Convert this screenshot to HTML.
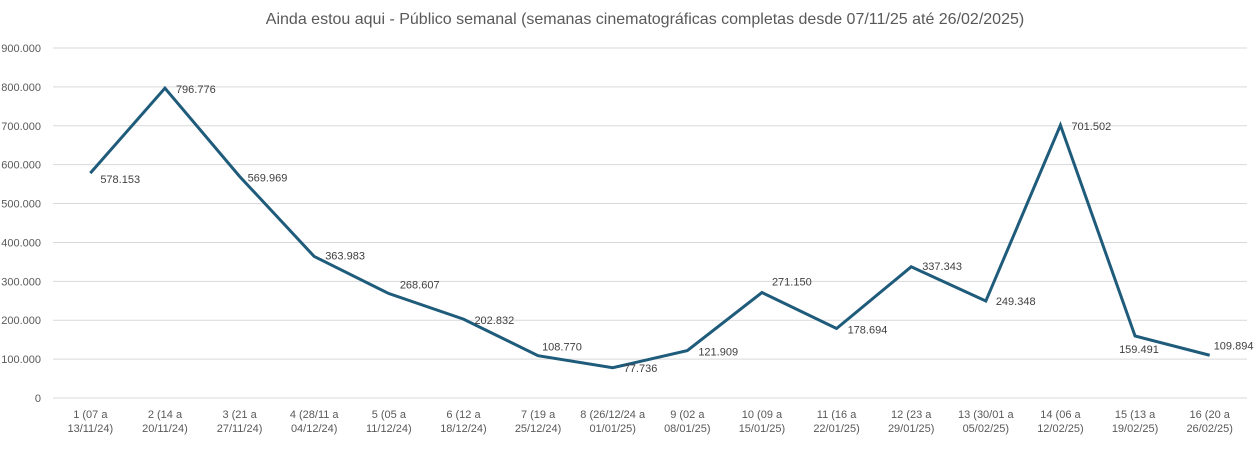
<!DOCTYPE html>
<html><head><meta charset="utf-8"><style>
html,body{margin:0;padding:0;background:#fff;}
svg{display:block;font-family:"Liberation Sans",sans-serif;}
</style></head><body>
<svg id="chart" width="1259" height="449" viewBox="0 0 1259 449">
<text x="645" y="24" text-anchor="middle" font-size="16" fill="#595959">Ainda estou aqui - Público semanal (semanas cinematográficas completas desde 07/11/25 até 26/02/2025)</text>
<g id="grid"></g><g id="yticks"></g><g id="xticks"></g><g id="series"></g><g id="labels"></g>
</svg>
<script>
const categoriesTop = ["1 (07 a","2 (14 a","3 (21 a","4 (28/11 a","5 (05 a","6 (12 a","7 (19 a","8 (26/12/24 a","9 (02 a","10 (09 a","11 (16 a","12 (23 a","13 (30/01 a","14 (06 a","15 (13 a","16 (20 a"];
const categoriesBottom = ["13/11/24)","20/11/24)","27/11/24)","04/12/24)","11/12/24)","18/12/24)","25/12/24)","01/01/25)","08/01/25)","15/01/25)","22/01/25)","29/01/25)","05/02/25)","12/02/25)","19/02/25)","26/02/25)"];
const audience = [578153,796776,569969,363983,268607,202832,108770,77736,121909,271150,178694,337343,249348,701502,159491,109894];
const valueLabels = ["578.153","796.776","569.969","363.983","268.607","202.832","108.770","77.736","121.909","271.150","178.694","337.343","249.348","701.502","159.491","109.894"];
const yTickValues = [0,100000,200000,300000,400000,500000,600000,700000,800000,900000];
const yTickLabels = ["0","100.000","200.000","300.000","400.000","500.000","600.000","700.000","800.000","900.000"];
// label placement offsets (dx, dy) relative to point
const labelDx = [10,11,8,11,11,11,4,11,11,10,11,11,10,11,-16,4];
const labelDy = [6,1,1,-1,-9,1,-9,0,1,-11,1,-1,0,1,13,-10];

const NS="http://www.w3.org/2000/svg";
const L=53,R=1247,Y0=398,Y9=48,YMAX=900000;
const n=audience.length, step=(R-L)/n;
const xs=i=>L+step*(i+0.5);
const ys=v=>Y0-(v/YMAX)*(Y0-Y9);
function mk(tag,attrs,parent){const e=document.createElementNS(NS,tag);for(const k in attrs)e.setAttribute(k,attrs[k]);parent.appendChild(e);return e;}
const grid=document.getElementById('grid'),yt=document.getElementById('yticks'),xt=document.getElementById('xticks'),se=document.getElementById('series'),lb=document.getElementById('labels');
yTickValues.forEach((v,i)=>{
  const g=mk('line',{x1:L,x2:R,y1:ys(v),y2:ys(v),stroke:'#d9d9d9','stroke-width':1},grid);
  
  
  const t=mk('text',{x:41,y:ys(v)+4,'text-anchor':'end','font-size':11,fill:'#595959'},yt);
  t.textContent=yTickLabels[i];
  
  
});
categoriesTop.forEach((c,i)=>{
  const t=mk('text',{x:xs(i),y:418,'text-anchor':'middle','font-size':11,fill:'#595959'},xt);
  
  
  const a=mk('tspan',{x:xs(i),dy:0},t);a.textContent=c;
  const b=mk('tspan',{x:xs(i),dy:14},t);b.textContent=categoriesBottom[i];
});
const pts=audience.map((v,i)=>xs(i)+','+ys(v)).join(' ');
const pl=mk('polyline',{points:pts,fill:'none',stroke:'#1f5b7a','stroke-width':3,'stroke-linejoin':'miter'},se);


audience.forEach((v,i)=>{
  const t=mk('text',{x:xs(i)+labelDx[i],y:ys(v)+labelDy[i]+4,'font-size':11,fill:'#404040'},lb);
  t.textContent=valueLabels[i];
  
  
});
</script>
</body></html>
